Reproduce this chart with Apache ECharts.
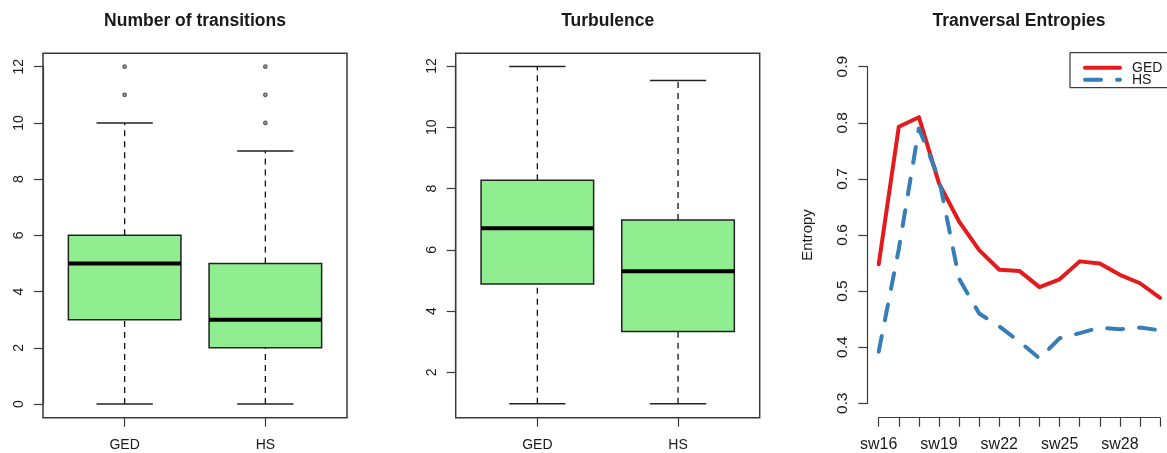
<!DOCTYPE html>
<html><head><meta charset="utf-8">
<script src="https://cdn.jsdelivr.net/npm/echarts@6/dist/echarts.min.js"></script>
<style>html,body{margin:0;padding:0;background:#fff}#c{width:1167px;height:453px}</style>
</head><body><div id="c"></div>
<script>
// ---------- data ----------
const groups = ['GED', 'HS'];
// box stats: [min, q1, median, q3, max]
const transGED = [0, 3, 5, 6, 10];
const transHS = [0, 2, 3, 5, 9];
const transOutGED = [11, 12];
const transOutHS = [10, 11, 12];
const turbGED = [0.97, 4.88, 6.70, 8.27, 11.98];
const turbHS = [0.97, 3.33, 5.30, 6.97, 11.53];
const weeks = ['sw16','sw17','sw18','sw19','sw20','sw21','sw22','sw23','sw24','sw25','sw26','sw27','sw28','sw29','sw30'];
const entropyGED = [0.548, 0.793, 0.810, 0.692, 0.624, 0.573, 0.538, 0.536, 0.507, 0.521, 0.553, 0.549, 0.529, 0.514, 0.488];
const entropyHS  = [0.392, 0.575, 0.790, 0.700, 0.522, 0.460, 0.437, 0.410, 0.380, 0.416, 0.425, 0.435, 0.432, 0.435, 0.430];
const titles = ['Number of transitions', 'Turbulence', 'Tranversal Entropies'];

// ---------- style ----------
const FONT = 'Liberation Sans, Arial, sans-serif';
const TXT = '#1a1a1a';
const FRAME = '#3a3a3a';

function renderBox(params, api) {
  const c = api.value(0);
  const pMin = api.coord([c, api.value(1)]);
  const pQ1 = api.coord([c, api.value(2)]);
  const pMed = api.coord([c, api.value(3)]);
  const pQ3 = api.coord([c, api.value(4)]);
  const pMax = api.coord([c, api.value(5)]);
  const band = api.size([1, 0])[0];
  const hw = band * 0.4, sw = band * 0.2, x = pMed[0];
  const dash = {stroke: '#111', lineWidth: 1.3, lineDash: [6, 5]};
  const solid = {stroke: '#222', lineWidth: 1.5};
  return {type: 'group', children: [
    {type: 'line', shape: {x1: x, y1: pMin[1], x2: x, y2: pQ1[1]}, style: dash},
    {type: 'line', shape: {x1: x, y1: pQ3[1], x2: x, y2: pMax[1]}, style: dash},
    {type: 'line', shape: {x1: x - sw, y1: pMin[1], x2: x + sw, y2: pMin[1]}, style: solid},
    {type: 'line', shape: {x1: x - sw, y1: pMax[1], x2: x + sw, y2: pMax[1]}, style: solid},
    {type: 'rect', shape: {x: x - hw, y: pQ3[1], width: 2 * hw, height: pQ1[1] - pQ3[1]},
      style: {fill: '#90EE90', stroke: '#222', lineWidth: 1.5}},
    {type: 'line', shape: {x1: x - hw, y1: pMed[1], x2: x + hw, y2: pMed[1]},
      style: {stroke: '#000', lineWidth: 4}}
  ]};
}

function frameGrid(left) {
  return {left: left, top: 53.3, width: 304, height: 364.4, show: true,
    borderColor: FRAME, borderWidth: 1.5, backgroundColor: 'transparent', outerBoundsMode: 'none'};
}
function hiddenAxis(gi) { return {gridIndex: gi, type: 'value', show: false, min: 0, max: 1}; }

function catAxis(gi, offset) {
  return {gridIndex: gi, type: 'category', data: groups, offset: offset,
    axisLine: {show: true, onZero: false, lineStyle: {color: FRAME, width: 1.2}},
    axisTick: {show: true, alignWithLabel: true, length: 9, lineStyle: {color: FRAME, width: 1.2}},
    axisLabel: {margin: 20, fontSize: 14, fontFamily: FONT, color: TXT},
    splitLine: {show: false}};
}
function valAxis(gi, min, max, interval, fs) {
  return {gridIndex: gi, type: 'value', min: min, max: max, interval: interval, offset: 11.3,
    axisLine: {show: true, onZero: false, lineStyle: {color: FRAME, width: 1.2}},
    axisTick: {show: true, length: 9, lineStyle: {color: FRAME, width: 1.2}},
    axisLabel: {rotate: 90, margin: 17, fontSize: fs, fontFamily: FONT, color: TXT},
    splitLine: {show: false}};
}

const titleCenters = [195, 607.7, 1019];
const option = {
  animation: false,
  backgroundColor: '#fff',
  title: titles.map((t, i) => ({text: t, left: titleCenters[i], top: 12, textAlign: 'center', padding: 0,
    textStyle: {fontSize: 17.5, fontWeight: 'bold', fontFamily: FONT, color: TXT}})),
  legend: {
    show: true, orient: 'vertical', left: 1070, top: 52.7,
    data: ['GED', 'HS'],
    padding: [8, 40, 1, 13], itemGap: -2, itemWidth: 35, itemHeight: 10,
    borderColor: '#111', borderWidth: 1,
    lineStyle: {width: 4},
    itemStyle: {color: 'transparent', borderColor: 'transparent', borderWidth: 0, opacity: 0},
    textStyle: {fontSize: 14, fontFamily: FONT, color: TXT, lineHeight: 12, padding: [0, 0, 0, 7]}
  },
  grid: [
    frameGrid(43),
    {left: 54.3, top: 66.7, width: 281.4, height: 337.3, outerBoundsMode: 'none'},
    frameGrid(455.7),
    {left: 467, top: 66, width: 281.4, height: 306.3, outerBoundsMode: 'none'},
    {left: 878.7, top: 66.7, width: 281.4, height: 336.6, outerBoundsMode: 'none'}
  ],
  xAxis: [
    hiddenAxis(0),
    catAxis(1, 13.7),
    hiddenAxis(2),
    catAxis(3, 45.4),
    {gridIndex: 4, type: 'category', data: weeks, boundaryGap: false, offset: 14.4,
      axisLine: {show: true, onZero: false, lineStyle: {color: FRAME, width: 1.2}},
      axisTick: {show: true, interval: 0, length: 9, lineStyle: {color: FRAME, width: 1.2}},
      axisLabel: {interval: 2, margin: 19, fontSize: 16, fontFamily: FONT, color: TXT},
      splitLine: {show: false}}
  ],
  yAxis: [
    hiddenAxis(0),
    valAxis(1, 0, 12, 2, 14),
    hiddenAxis(2),
    valAxis(3, 2, 12, 2, 14),
    Object.assign(valAxis(4, 0.3, 0.9, 0.1, 15.5), {
      name: 'Entropy', nameLocation: 'middle', nameRotate: 90, nameGap: 52,
      nameTextStyle: {fontSize: 15, fontFamily: FONT, color: TXT}})
  ],
  series: [
    {type: 'custom', xAxisIndex: 1, yAxisIndex: 1, renderItem: renderBox,
      encode: {x: 0, y: [1, 2, 3, 4, 5]},
      data: [[0].concat(transGED), [1].concat(transHS)]},
    {type: 'scatter', xAxisIndex: 1, yAxisIndex: 1, symbol: 'circle', symbolSize: 3.5,
      itemStyle: {color: '#999', borderColor: '#333', borderWidth: 1.2},
      data: transOutGED.map(v => [0, v]).concat(transOutHS.map(v => [1, v]))},
    {type: 'custom', xAxisIndex: 3, yAxisIndex: 3, renderItem: renderBox,
      encode: {x: 0, y: [1, 2, 3, 4, 5]},
      data: [[0].concat(turbGED), [1].concat(turbHS)]},
    {name: 'GED', type: 'line', xAxisIndex: 4, yAxisIndex: 4, data: entropyGED,
      symbol: 'none', showSymbol: false, clip: false, color: '#E41A1C',
      lineStyle: {color: '#E41A1C', width: 4, cap: 'round', join: 'round'}},
    {name: 'HS', type: 'line', xAxisIndex: 4, yAxisIndex: 4, data: entropyHS,
      symbol: 'none', showSymbol: false, clip: false, color: '#377EB8',
      lineStyle: {color: '#377EB8', width: 4, type: [16, 16], cap: 'round', join: 'round'}}
  ]
};
const chart = echarts.init(document.getElementById('c'), null, {renderer: 'canvas'});
chart.setOption(option);
</script>
</body></html>
